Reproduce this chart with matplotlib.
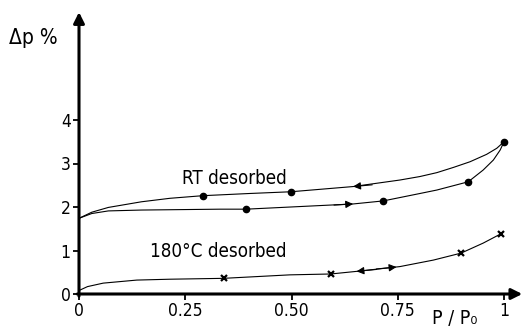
import matplotlib
matplotlib.use('Agg')
import matplotlib.pyplot as plt

plt.rcParams['font.family'] = ['DejaVu Sans']
plt.rcParams['font.stretch'] = 'condensed'

# values
# RT desorbed, desorption branch (upper)
rt_des_x = [0, 0.030, 0.069, 0.147, 0.214, 0.291, 0.40, 0.498, 0.645, 0.755, 0.802,
            0.842, 0.881, 0.920, 0.959, 0.983, 1.0]
rt_des_y = [1.74, 1.88, 1.99, 2.12, 2.20, 2.26, 2.31, 2.35, 2.47, 2.62, 2.70,
            2.79, 2.91, 3.04, 3.21, 3.35, 3.50]
# RT desorbed, adsorption branch (lower)
rt_ads_x = [0, 0.030, 0.069, 0.147, 0.332, 0.393, 0.645, 0.716, 0.802, 0.842, 0.881,
            0.916, 0.951, 0.975, 0.991, 1.0]
rt_ads_y = [1.74, 1.85, 1.91, 1.93, 1.95, 1.95, 2.07, 2.14, 2.31, 2.39, 2.49,
            2.58, 2.85, 3.08, 3.31, 3.50]
rt_des_pts_x = [0.291, 0.498, 1.0]
rt_des_pts_y = [2.26, 2.35, 3.50]
rt_ads_pts_x = [0.393, 0.716, 0.916]
rt_ads_pts_y = [1.95, 2.14, 2.58]

# 180 C desorbed
hot_x = [0, 0.02, 0.057, 0.136, 0.214, 0.34, 0.496, 0.592, 0.653, 0.755, 0.834,
         0.899, 0.951, 0.992]
hot_y = [0.08, 0.17, 0.25, 0.32, 0.34, 0.36, 0.44, 0.46, 0.52, 0.63, 0.78,
         0.94, 1.17, 1.38]
hot_pts_x = [0.34, 0.592, 0.899, 0.992]
hot_pts_y = [0.36, 0.46, 0.94, 1.38]

xticks = [0, 0.25, 0.5, 0.75, 1]
xticklabels = ['0', '0.25', '0.50', '0.75', '1']
yticks = [0, 1, 2, 3, 4]

W, H = 523, 329
fig = plt.figure(figsize=(W / 100, H / 100), dpi=100)
# x: 0 -> px 79, 1 -> px 504 ; y: 0 -> px 294 from top, 43.5 px per unit
xs, ys = 425.0, 43.5
ax = fig.add_axes([79 / W, 35 / H, 1.05 * xs / W, 6.5 * ys / H])
ax.set_xlim(0, 1.05)
ax.set_ylim(0, 6.5)
for s in ax.spines.values():
    s.set_visible(False)

# axes with arrows
ax.annotate('', xy=(1.043, 0), xytext=(-0.004, 0), xycoords='data',
            arrowprops=dict(arrowstyle='-|>', lw=2.2, color='k', mutation_scale=16,
                            shrinkA=0, shrinkB=0), annotation_clip=False)
ax.annotate('', xy=(0, 6.48), xytext=(0, -0.05), xycoords='data',
            arrowprops=dict(arrowstyle='-|>', lw=2.2, color='k', mutation_scale=16,
                            shrinkA=0, shrinkB=0), annotation_clip=False)

ax.set_xticks(xticks)
ax.set_xticklabels(xticklabels)
ax.set_yticks(yticks)
ax.tick_params(direction='out', length=4, width=1.3, labelsize=12.5, pad=2)

lw = 0.8
ax.plot(rt_des_x, rt_des_y, color='k', lw=lw, clip_on=False)
ax.plot(rt_ads_x, rt_ads_y, color='k', lw=lw, clip_on=False)
ax.plot(hot_x, hot_y, color='k', lw=lw, clip_on=False)
ax.plot(rt_des_pts_x, rt_des_pts_y, 'o', color='k', ms=4.5, clip_on=False)
ax.plot(rt_ads_pts_x, rt_ads_pts_y, 'o', color='k', ms=4.5, clip_on=False)
ax.plot(hot_pts_x, hot_pts_y, 'x', color='k', ms=5, mew=1.6, clip_on=False)

# direction arrows on the curves
arr = dict(arrowstyle='-|>', lw=0.8, color='k', mutation_scale=11, shrinkA=0, shrinkB=0)
ax.annotate('', xy=(0.645, 2.47), xytext=(0.69, 2.51), arrowprops=arr)
ax.annotate('', xy=(0.645, 2.07), xytext=(0.60, 2.045), arrowprops=arr)
ax.annotate('', xy=(0.653, 0.52), xytext=(0.70, 0.565), arrowprops=arr)
ax.annotate('', xy=(0.747, 0.62), xytext=(0.70, 0.575), arrowprops=arr)

ax.text(0.489, 2.66, 'RT desorbed', ha='right', va='center', fontsize=13.5)
ax.text(0.489, 0.97, '180\u00b0C desorbed', ha='right', va='center', fontsize=13.5)
ax.text(-0.165, 5.89, '\u0394p %', ha='left', va='center', fontsize=15)
ax.text(0.83, -0.56, 'P / P\u2080', ha='left', va='center', fontsize=14, clip_on=False)

fig.savefig('out.png', dpi=100)
